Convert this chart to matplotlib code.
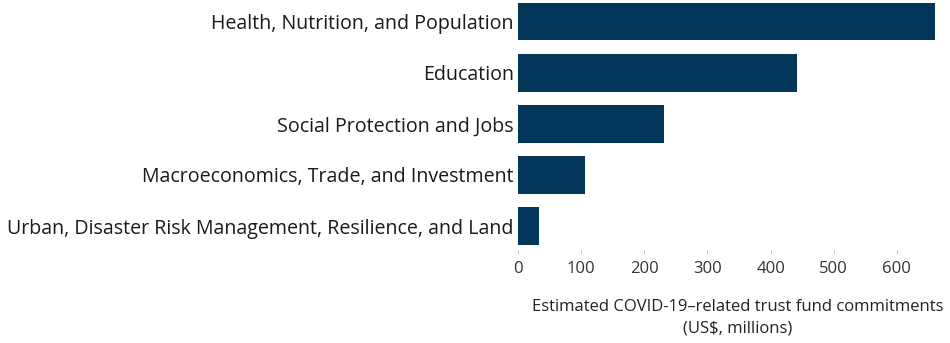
import matplotlib.pyplot as plt

sectors = [
    "Health, Nutrition, and Population",
    "Education",
    "Social Protection and Jobs",
    "Macroeconomics, Trade, and Investment",
    "Urban, Disaster Risk Management, Resilience, and Land",
]
commitments = [660, 442, 231, 106, 33]
ticks = [0, 100, 200, 300, 400, 500, 600]

plt.rcParams['font.family'] = ['Open Sans', 'DejaVu Sans']

fig = plt.figure(figsize=(9.5, 3.43), dpi=100)
ax = fig.add_axes([0.5453, 0.271, 0.4387, 0.729])

ax.barh(range(len(sectors)), commitments, height=0.74, color='#02375a')

ax.set_yticks(range(len(sectors)))
ax.set_yticklabels(sectors, fontsize=14.1, color='#1a1a1a')
ax.set_ylim(4.47, -0.42)
ax.set_xlim(0, 660)
ax.set_xticks(ticks)
ax.tick_params(axis='x', labelsize=12, colors='#333333', length=3, width=0.6,
               color='#bbbbbb', pad=5)
ax.tick_params(axis='y', length=0, pad=3)

for s in ax.spines.values():
    s.set_visible(False)

ax.set_xlabel('Estimated COVID-19\u2013related trust fund commitments\n(US$, millions)',
              fontsize=12, color='#222222', linespacing=1.5)
ax.xaxis.set_label_coords(0.527, -0.195, transform=ax.transAxes)
ax.xaxis.label.set_verticalalignment('top')

fig.savefig('out.png', dpi=100)
